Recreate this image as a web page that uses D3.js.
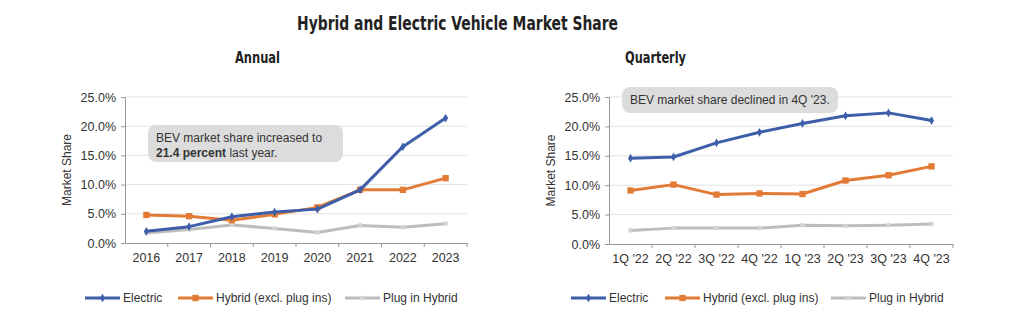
<!DOCTYPE html>
<html>
<head>
<meta charset="utf-8">
<script src="https://cdn.jsdelivr.net/npm/d3@7"></script>
<style>
  html, body { margin: 0; padding: 0; background: #fff; }
  svg { display: block; }
  .tick text { font-family: "Liberation Sans", Arial, sans-serif; font-size: 12.5px; fill: #333; }
</style>
</head>
<body>
<svg id="chart" width="1024" height="324"></svg>
<script>
// annual data
const years = ['2016', '2017', '2018', '2019', '2020', '2021', '2022', '2023']
const annualElectric = [2.0, 2.8, 4.5, 5.3, 5.8, 9.1, 16.5, 21.4]
const annualHybrid = [4.8, 4.6, 3.9, 4.9, 6.1, 9.1, 9.1, 11.1]
const annualPlugin = [1.7, 2.3, 3.1, 2.5, 1.8, 3.0, 2.7, 3.3]

// quarterly data
const quarters = ["1Q '22", "2Q '22", "3Q '22", "4Q '22", "1Q '23", "2Q '23", "3Q '23", "4Q '23"]
const quarterElectric = [14.6, 14.8, 17.2, 19.0, 20.5, 21.8, 22.3, 21.0]
const quarterHybrid = [9.1, 10.1, 8.4, 8.6, 8.5, 10.8, 11.7, 13.2]
const quarterPlugin = [2.3, 2.7, 2.7, 2.7, 3.2, 3.1, 3.2, 3.4]

const yTicks = [0, 5, 10, 15, 20, 25]
const seriesNames = ['Electric', 'Hybrid (excl. plug ins)', 'Plug in Hybrid']
const seriesColors = ['#3d5ea8', '#e27b36', '#bdbdbd']

const FONT = '"Liberation Sans", Arial, sans-serif'
const COND = '"Liberation Sans Narrow", "DejaVu Sans Condensed", Arial, sans-serif'

const svg = d3.select('#chart')

// heading squeezed to the condensed width of the original
svg.append('text')
  .attr('x', 297).attr('y', 30)
  .attr('font-family', COND)
  .attr('font-weight', 'bold')
  .attr('font-size', 20)
  .attr('fill', '#222')
  .attr('textLength', 321)
  .attr('lengthAdjust', 'spacingAndGlyphs')
  .text('Hybrid and Electric Vehicle Market Share')

function drawPanel(opts) {
  const { left, right, top, bottom, cats, series, title, titleX, titleW, note, legendX } = opts

  const x = d3.scaleBand().domain(cats).range([left, right])
  const y = d3.scaleLinear().domain([0, 25]).range([bottom, top])
  const g = svg.append('g')

  // subtitle
  g.append('text')
    .attr('x', titleX).attr('y', 63)
    .attr('font-family', COND)
    .attr('font-weight', 'bold')
    .attr('font-size', 16)
    .attr('fill', '#222')
    .attr('textLength', titleW)
    .attr('lengthAdjust', 'spacingAndGlyphs')
    .text(title)

  // gridlines
  g.append('g')
    .selectAll('line')
    .data(yTicks.slice(1))
    .join('line')
    .attr('x1', left).attr('x2', right)
    .attr('y1', d => y(d)).attr('y2', d => y(d))
    .attr('stroke', '#e3e3e3')
    .attr('stroke-width', 1)

  // y axis
  const yAxis = g.append('g')
    .attr('transform', `translate(${left},0)`)
    .call(d3.axisLeft(y).tickValues(yTicks).tickFormat(d => d.toFixed(1) + '%').tickSize(4).tickPadding(5))
  yAxis.select('.domain').attr('stroke', '#999')
  yAxis.selectAll('.tick line').attr('stroke', '#999')

  // x axis, ticks between categories
  const xAxis = g.append('g')
    .attr('transform', `translate(0,${bottom})`)
    .call(d3.axisBottom(x).tickSize(0).tickPadding(10))
  xAxis.select('.domain').attr('stroke', '#999')
  g.append('g')
    .selectAll('line')
    .data(cats)
    .join('line')
    .attr('x1', d => x(d) + x.bandwidth()).attr('x2', d => x(d) + x.bandwidth())
    .attr('y1', bottom).attr('y2', bottom + 4)
    .attr('stroke', '#999')

  // y label
  g.append('text')
    .attr('transform', `translate(${left - 54},${(top + bottom) / 2}) rotate(-90)`)
    .attr('text-anchor', 'middle')
    .attr('font-family', FONT)
    .attr('font-size', 12)
    .attr('fill', '#333')
    .text('Market Share')

  // annotation box
  const nb = g.append('g')
  nb.append('rect')
    .attr('x', note.x).attr('y', note.y)
    .attr('width', note.w).attr('height', note.h)
    .attr('rx', 8)
    .attr('fill', '#dcdcdc')
  note.lines.forEach((ln, i) => {
    const t = nb.append('text')
      .attr('x', note.x + 8)
      .attr('y', note.y + 17 + i * 15)
      .attr('font-family', FONT)
      .attr('font-size', 12)
      .attr('fill', '#333')
    ln.forEach(part => {
      t.append('tspan').attr('font-weight', part.bold ? 'bold' : 'normal').text(part.t)
    })
  })

  const cx = d => x(d) + x.bandwidth() / 2
  const line = d3.line().x(d => cx(d.c)).y(d => y(d.v))

  // draw plug-in first so electric sits on top
  const order = [2, 1, 0]
  order.forEach(si => {
    const pts = cats.map((c, i) => ({ c, v: series[si][i] }))
    g.append('path')
      .datum(pts)
      .attr('d', line)
      .attr('fill', 'none')
      .attr('stroke', seriesColors[si])
      .attr('stroke-width', 3)
      .attr('stroke-linejoin', 'round')
    drawMarkers(g, pts.map(p => [cx(p.c), y(p.v)]), si)
  })

  // legend
  const ly = 298
  seriesNames.forEach((name, si) => {
    const lx = legendX[si]
    g.append('line')
      .attr('x1', lx).attr('x2', lx + 35)
      .attr('y1', ly).attr('y2', ly)
      .attr('stroke', seriesColors[si])
      .attr('stroke-width', 3)
    drawMarkers(g, [[lx + 17.5, ly]], si)
    g.append('text')
      .attr('x', lx + 38).attr('y', ly + 4)
      .attr('font-family', FONT)
      .attr('font-size', 12)
      .attr('fill', '#333')
      .text(name)
  })
}

function drawMarkers(g, pts, si) {
  const sym = si === 0 ? d3.symbolDiamond : si === 1 ? d3.symbolSquare : d3.symbolCircle
  const size = si === 0 ? 22 : si === 1 ? 40 : 18
  g.append('g')
    .selectAll('path')
    .data(pts)
    .join('path')
    .attr('transform', d => `translate(${d[0]},${d[1]})`)
    .attr('d', d3.symbol().type(sym).size(size))
    .attr('fill', si === 2 ? '#d4d4d4' : seriesColors[si])
}

drawPanel({
  left: 125, right: 467, top: 97, bottom: 243,
  cats: years,
  series: [annualElectric, annualHybrid, annualPlugin],
  title: 'Annual', titleX: 235, titleW: 45,
  note: { x: 148, y: 125, w: 195, h: 37, lines: [
    [{ t: 'BEV market share increased to' }],
    [{ t: '21.4 percent', bold: true }, { t: ' last year.' }]
  ] },
  legendX: [85, 178, 345]
})

drawPanel({
  left: 609, right: 953, top: 97, bottom: 244,
  cats: quarters,
  series: [quarterElectric, quarterHybrid, quarterPlugin],
  title: 'Quarterly', titleX: 625, titleW: 61,
  note: { x: 622, y: 87, w: 216, h: 26, lines: [
    [{ t: "BEV market share declined in 4Q '23." }]
  ] },
  legendX: [571, 665, 831]
})
</script>
</body>
</html>
